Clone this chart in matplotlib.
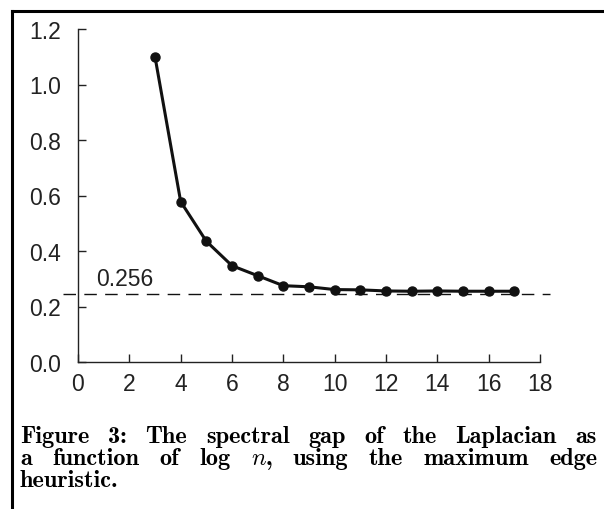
import matplotlib
matplotlib.use("Agg")
import matplotlib.pyplot as plt
from matplotlib.lines import Line2D

plt.rcParams['font.family'] = ['Liberation Sans', 'DejaVu Sans']
plt.rcParams['mathtext.fontset'] = 'cm'

# data
log_n = [3, 4, 5, 6, 7, 8, 9, 10, 11, 12, 13, 14, 15, 16, 17]
gap = [1.10, 0.578, 0.435, 0.347, 0.311, 0.275, 0.271, 0.261, 0.260,
       0.256, 0.255, 0.256, 0.255, 0.255, 0.255]
limit_y = 0.245
limit_label = "0.256"
xticks = [0, 2, 4, 6, 8, 10, 12, 14, 16, 18]
yticks = [0.0, 0.2, 0.4, 0.6, 0.8, 1.0, 1.2]

caption = [
    "Figure 3: The spectral gap of the Laplacian as",
    "a function of log $n$, using the maximum edge",
    "heuristic.",
]

fig = plt.figure(figsize=(6.04, 5.10), dpi=100)
ax = fig.add_axes([78 / 604, 1 - 363 / 510, (540 - 78) / 604, (363 - 30) / 510])

ax.plot(log_n, gap, color='#111111', lw=2.2, marker='o', ms=6.5, zorder=3)
ax.plot([-0.6, 18.4], [limit_y, limit_y], color='#111111', lw=1.0,
        dashes=(9, 6), clip_on=False)
ax.text(0.7, limit_y + 0.015, limit_label, fontsize=16.5, va='bottom', ha='left',
        color='#222222')

ax.set_xlim(0, 18)
ax.set_ylim(0, 1.2)
ax.set_xticks(xticks)
ax.set_yticks(yticks)
ax.set_yticklabels([f"{v:.1f}" for v in yticks])
for s in ['top', 'right']:
    ax.spines[s].set_visible(False)
for s in ['left', 'bottom']:
    ax.spines[s].set_linewidth(1.0)
    ax.spines[s].set_color('#222222')
ax.tick_params(direction='in', length=6, width=1.0, color='#222222',
               labelsize=16.5, labelcolor='#222222')
ax.tick_params(axis='x', pad=7)
ax.tick_params(axis='y', pad=12)

# frame around the figure (left and top edges)
fig.add_artist(Line2D([12 / 604, 12 / 604], [0, 1 - 12 / 510], color='black', lw=2.2))
fig.add_artist(Line2D([12 / 604, 1], [1 - 12 / 510, 1 - 12 / 510], color='black', lw=2.2))

# justified caption
renderer = fig.canvas.get_renderer()
x0, x1 = 20, 597
baselines = [443, 465, 487]
cap_kw = dict(fontfamily='cmb10', fontsize=17.5, va='baseline', ha='left')
for i, line in enumerate(caption):
    yb = 1 - baselines[i] / 510
    words = line.split(' ')
    if i == len(caption) - 1:
        fig.text(x0 / 604, yb, line, **cap_kw)
        continue
    texts = [fig.text(0, yb, w, **cap_kw) for w in words]
    widths = [t.get_window_extent(renderer).width for t in texts]
    space = (x1 - x0 - sum(widths)) / (len(words) - 1)
    x = x0
    for t, w in zip(texts, widths):
        t.set_x(x / 604)
        x += w + space

fig.savefig("out.png", dpi=100)
